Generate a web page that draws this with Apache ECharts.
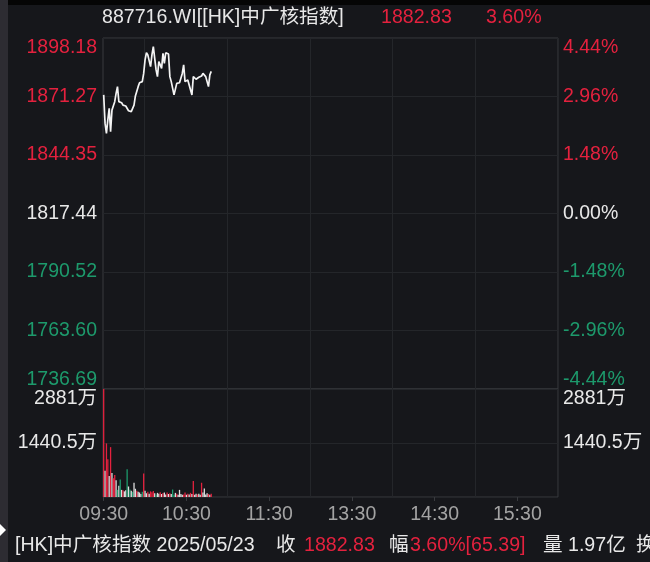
<!DOCTYPE html>
<html><head><meta charset="utf-8">
<script src="https://cdn.jsdelivr.net/npm/echarts@6/dist/echarts.min.js"></script>
<style>html,body{margin:0;padding:0;background:#16171b;}#c{width:650px;height:562px;}</style>
</head><body><div id="c"></div>
<script>
// ---------------- data ----------------
const prevClose = 1817.44;
const priceMin = 1736.69;
const priceMax = 1898.18;
const priceTickLabels = ['1736.69','1763.60','1790.52','1817.44','1844.35','1871.27','1898.18'];
const pctTickLabels = ['-4.44%','-2.96%','-1.48%','0.00%','1.48%','2.96%','4.44%'];
const volumeMax = 2881; // 万
const volTickLabels = ['', '1440.5万', '2881万'];
const timeLabels = ['09:30','10:30','11:30','13:30','14:30','15:30'];
// minute prices from 09:30
const prices = [
 1872.0,1858.9,1854.3,1860.5,1865.8,1855.1,1865.0,1864.3,1868.9,1872.7,
 1875.8,1868.9,1869.7,1868.4,1867.3,1867.3,1866.9,1866.6,1864.7,1864.3,
 1864.3,1864.3,1867.3,1871.5,1872.0,1875.8,1877.6,1877.6,1878.1,1881.9,
 1888.1,1891.4,1890.4,1891.1,1885.0,1890.4,1894.2,1888.8,1883.5,1880.4,
 1887.3,1885.8,1884.2,1891.1,1886.5,1891.4,1891.1,1890.8,1880.4,1878.1,
 1877.3,1872.0,1871.2,1877.3,1877.6,1877.6,1878.1,1881.9,1885.8,1878.1,
 1878.5,1878.9,1878.1,1874.3,1872.0,1880.4,1879.6,1879.2,1880.1,1880.1,
 1879.6,1880.7,1881.9,1882.2,1880.4,1879.6,1875.8,1881.2,1882.83
];
// minute volumes (万)
const volumes = [
 2881,700,1430,1010,560,1330,640,500,590,450,
 190,300,470,190,180,150,180,740,280,200,
 170,140,380,220,170,140,120,80,140,630,
 170,100,140,90,150,130,160,100,70,110,
 90,130,80,110,120,70,120,80,100,80,
 200,60,110,90,60,190,80,60,70,120,
 60,90,70,110,80,430,60,90,70,90,
 60,380,120,230,70,100,80,60,90
];
// r = up, g = down, w = flat
const volDirs = [
 'r','w','r','r','w','r','w','r','r','w',
 'g','w','g','w','r','w','w','g','w','g',
 'w','g','w','w','r','w','w','w','g','r',
 'w','w','r','w','r','r','r','w','g','w',
 'w','r','w','r','w','w','r','w','r','w',
 'g','g','w','r','w','w','w','w','r','r',
 'w','r','w','r','w','r','w','w','r','w',
 'w','r','w','w','w','w','r','w','r'
];

// ---------------- build ----------------
const RED = '#e4213e', GREEN = '#1d9a6c', WHITE = '#e8e8e8', GRAY = '#a3a3a3';
const dirColor = { r: RED, g: GREEN, w: '#dcdcdc' };
const FONT = '"Liberation Sans","Noto Sans CJK SC",sans-serif';

// trading minutes: 09:30-11:59, 13:00-15:59
const minutes = [];
function pad(n){return (n<10?'0':'')+n;}
for (let m = 9*60+30; m < 12*60; m++) minutes.push(pad(Math.floor(m/60))+':'+pad(m%60));
for (let m = 13*60; m < 16*60; m++) minutes.push(pad(Math.floor(m/60))+':'+pad(m%60));

const priceRange = priceMax - priceMin;
const priceStep = priceRange / 6;
const volStep = volumeMax / 2;

function priceIdx(v){ return Math.round(Number(v) / priceStep); }
function priceColor(v){ const k = priceIdx(v); return k > 3 ? RED : (k === 3 ? WHITE : GREEN); }

const chart = echarts.init(document.getElementById('c'), null, {renderer: 'canvas'});

const splitCol = '#24262a';
const borderCol = '#383a3e';
const TS = 19.6;

function t(text, left, top, color){
  return { text: text, left: left, top: top, padding: 0, textStyle: { color: color, fontSize: TS, fontWeight: 'normal', fontFamily: FONT } };
}

const option = {
  backgroundColor: '#16171b',
  animation: false,
  textStyle: { fontFamily: FONT },
  graphic: [
    { type: 'rect', left: 0, top: 0, shape: { width: 8, height: 562 }, style: { fill: '#2d2c32' }, silent: true },
    { type: 'rect', left: 8, top: 0, shape: { width: 642, height: 5 }, style: { fill: '#050505' }, silent: true },
    { type: 'polygon', shape: { points: [[0, 524], [6, 530], [0, 536]] }, style: { fill: '#ffffff' }, silent: true }
  ],
  title: [
    t('887716.WI[[HK]中广核指数]', 102, 8, WHITE),
    t('1882.83', 381, 8, RED),
    t('3.60%', 486, 8, RED),
    t('[HK]中广核指数 2025/05/23', 15, 536, WHITE),
    t('收', 276, 536, WHITE),
    t('1882.83', 304, 536, RED),
    t('幅', 389, 536, WHITE),
    t('3.60%[65.39]', 410, 536, RED),
    t('量', 543, 536, WHITE),
    t('1.97亿', 568, 536, WHITE),
    t('换', 636, 536, WHITE)
  ],
  grid: [
    { left: 103, right: 92, top: 38, height: 351, show: true, borderColor: borderCol, borderWidth: 1, backgroundColor: 'transparent' },
    { left: 103, right: 92, top: 389, height: 108, show: true, borderColor: borderCol, borderWidth: 1, backgroundColor: 'transparent' }
  ],
  xAxis: [
    {
      type: 'category', gridIndex: 0, data: minutes, boundaryGap: true,
      axisLine: { show: false }, axisTick: { show: false }, axisLabel: { show: false },
      splitLine: { show: true, interval: (i) => i % 60 === 30, lineStyle: { color: splitCol, width: 1 } }
    },
    {
      type: 'category', gridIndex: 1, data: minutes, boundaryGap: true,
      axisLine: { show: false },
      axisTick: { show: true, alignWithLabel: true, interval: (i) => timeLabels.indexOf(minutes[i]) >= 0, length: 4, lineStyle: { color: borderCol } },
      axisLabel: {
        show: true, interval: (i) => timeLabels.indexOf(minutes[i]) >= 0,
        color: GRAY, fontSize: 19.5, fontFamily: FONT, margin: 8
      },
      splitLine: { show: true, interval: (i) => i % 60 === 30, lineStyle: { color: splitCol, width: 1 } }
    }
  ],
  yAxis: [
    {
      type: 'value', gridIndex: 0, position: 'left', min: 0, max: priceRange, interval: priceStep,
      axisLine: { show: false }, axisTick: { show: false },
      axisLabel: {
        formatter: (v) => priceTickLabels[priceIdx(v)], color: (v) => priceColor(v),
        fontSize: 19.5, fontFamily: FONT, margin: 6,
        verticalAlignMaxLabel: 'top', verticalAlignMinLabel: 'bottom'
      },
      splitLine: { show: true, lineStyle: { color: splitCol, width: 1 } }
    },
    {
      type: 'value', gridIndex: 0, position: 'right', min: 0, max: priceRange, interval: priceStep,
      axisLine: { show: false }, axisTick: { show: false },
      axisLabel: {
        formatter: (v) => pctTickLabels[priceIdx(v)], color: (v) => priceColor(v),
        fontSize: 19.5, fontFamily: FONT, margin: 5,
        verticalAlignMaxLabel: 'top', verticalAlignMinLabel: 'bottom'
      },
      splitLine: { show: false }
    },
    {
      type: 'value', gridIndex: 1, position: 'left', min: 0, max: volumeMax, interval: volStep,
      axisLine: { show: false }, axisTick: { show: false },
      axisLabel: {
        showMinLabel: false, formatter: (v) => volTickLabels[Math.round(Number(v) / volStep)],
        color: WHITE, fontSize: 19.5, fontFamily: FONT, margin: 6,
        verticalAlignMaxLabel: 'top'
      },
      splitLine: { show: true, lineStyle: { color: splitCol, width: 1 } }
    },
    {
      type: 'value', gridIndex: 1, position: 'right', min: 0, max: volumeMax, interval: volStep,
      axisLine: { show: false }, axisTick: { show: false },
      axisLabel: {
        showMinLabel: false, formatter: (v) => volTickLabels[Math.round(Number(v) / volStep)],
        color: WHITE, fontSize: 19.5, fontFamily: FONT, margin: 5,
        verticalAlignMaxLabel: 'top'
      },
      splitLine: { show: false }
    }
  ],
  series: [
    {
      type: 'line', xAxisIndex: 0, yAxisIndex: 0,
      data: prices.map(p => +(p - priceMin).toFixed(4)),
      showSymbol: false, symbol: 'none',
      lineStyle: { color: '#f4f4f4', width: 1.7 }
    },
    {
      type: 'bar', xAxisIndex: 1, yAxisIndex: 2, barWidth: 1.3,
      data: volumes.map((v, i) => ({ value: v, itemStyle: { color: dirColor[volDirs[i]] } }))
    }
  ]
};
chart.setOption(option);
</script>
</body></html>
